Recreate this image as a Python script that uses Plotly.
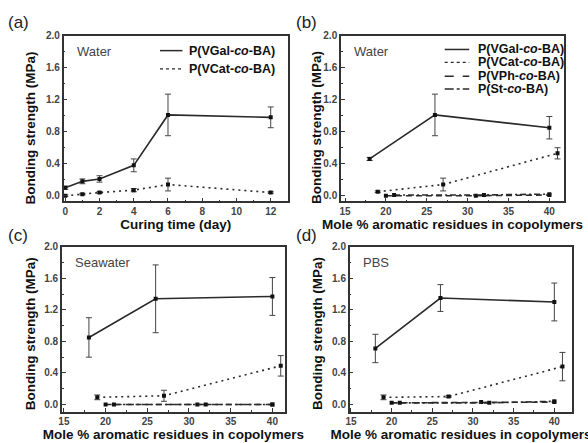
import plotly.graph_objects as go

# ---------------- data ----------------
# (a) curing time
days = [0, 1, 2, 4, 6, 12]
a_vgal = [0.10, 0.18, 0.21, 0.38, 1.01, 0.98]
a_vgal_err = [0.02, 0.03, 0.04, 0.08, 0.26, 0.13]
a_vcat = [0.00, 0.02, 0.04, 0.07, 0.14, 0.04]
a_vcat_err = [0.01, 0.01, 0.01, 0.02, 0.08, 0.01]

# mole % aromatic residues
x_vgal = [18, 26, 40]
x_vcat = [19, 27, 41]
x_vph = [20, 31, 40]
x_st = [21, 32, 40]

# (b) water
b_vgal = [0.46, 1.01, 0.85]
b_vgal_err = [0.02, 0.26, 0.14]
b_vcat = [0.05, 0.14, 0.53]
b_vcat_err = [0.01, 0.08, 0.07]
b_vph = [0.00, 0.00, 0.01]
b_st = [0.01, 0.01, 0.02]

# (c) seawater
c_vgal = [0.85, 1.34, 1.37]
c_vgal_err = [0.25, 0.43, 0.24]
c_vcat = [0.09, 0.11, 0.49]
c_vcat_err = [0.03, 0.07, 0.13]
c_vph = [0.00, 0.00, 0.00]
c_st = [0.00, 0.00, 0.00]

# (d) PBS
d_vgal = [0.71, 1.35, 1.30]
d_vgal_err = [0.18, 0.17, 0.24]
d_vcat = [0.09, 0.10, 0.48]
d_vcat_err = [0.03, 0.01, 0.18]
d_vph = [0.02, 0.03, 0.03]
d_st = [0.02, 0.02, 0.04]

series_names = ["P(VGal-<i>co</i>-BA)", "P(VCat-<i>co</i>-BA)", "P(VPh-<i>co</i>-BA)", "P(St-<i>co</i>-BA)"]
dashes = ["solid", "2px,4px", "6px,4px", "6px,3px,2px,3px"]
legend_dashes = ["solid", "dot", "dash", "dashdot"]

LINE = "#2a2a2a"
AX = "#333333"
FONT = "Liberation Sans, Arial"

fig = go.Figure()


def add(xs, ys, err, dash, xa, ya):
    fig.add_trace(go.Scatter(
        x=xs, y=ys, mode="lines+markers",
        line=dict(color=LINE, width=1.6 if dash == "solid" else 1.6, dash=dash),
        marker=dict(symbol="square", size=4, color="#111"),
        error_y=dict(type="data", array=err, visible=err is not None,
                     color="#444", thickness=1, width=3),
        xaxis=xa, yaxis=ya, showlegend=False, hoverinfo="skip"))


add(days, a_vgal, a_vgal_err, dashes[0], "x", "y")
add(days, a_vcat, a_vcat_err, dashes[1], "x", "y")

for (vg, vge, vc, vce, vp, st, xa, ya) in [
    (b_vgal, b_vgal_err, b_vcat, b_vcat_err, b_vph, b_st, "x2", "y2"),
    (c_vgal, c_vgal_err, c_vcat, c_vcat_err, c_vph, c_st, "x3", "y3"),
    (d_vgal, d_vgal_err, d_vcat, d_vcat_err, d_vph, d_st, "x4", "y4"),
]:
    add(x_vgal, vg, vge, dashes[0], xa, ya)
    add(x_vcat, vc, vce, dashes[1], xa, ya)
    add(x_vph, vp, None, dashes[2], xa, ya)
    add(x_st, st, None, dashes[3], xa, ya)

tickfont = dict(family=FONT, size=10, color="#444", weight="bold")
titlefont = dict(family=FONT, size=13.5, color="#111", weight="bold")


def xax(domain, rng, dtick, minor_dtick, anchor, title):
    return dict(domain=domain, range=rng, anchor=anchor, showgrid=False, zeroline=False,
                showline=True, mirror=True, linecolor=AX, linewidth=1.5,
                ticks="inside", ticklen=4, tickcolor=AX, tickwidth=1,
                minor=dict(ticks="inside", ticklen=2, dtick=minor_dtick, tickcolor=AX),
                tickfont=tickfont, tick0=0, dtick=dtick,
                title=dict(text=title, font=titlefont, standoff=3))


def yax(domain, rng, anchor):
    return dict(domain=domain, range=rng, anchor=anchor, showgrid=False, zeroline=False,
                showline=True, mirror=True, linecolor=AX, linewidth=1.5,
                ticks="inside", ticklen=4, tickcolor=AX, tickwidth=1,
                minor=dict(ticks="inside", ticklen=2, dtick=0.2, tickcolor=AX),
                tickfont=tickfont, tick0=0, dtick=0.4, tickformat=".1f")


mole_title = "Mole % aromatic residues in copolymers"
fig.update_layout(
    width=588, height=443, margin=dict(l=0, r=0, t=0, b=0),
    paper_bgcolor="white", plot_bgcolor="white",
    xaxis=xax([0.102, 0.486], [-0.1, 13], 2, 1, "y", "Curing time (day)"),
    yaxis=yax([0.553, 0.932], [-0.07, 2.0], "x"),
    xaxis2=xax([0.577, 0.959], [14.5, 41.8], 5, 2.5, "y2", mole_title),
    yaxis2=yax([0.553, 0.932], [-0.07, 2.0], "x2"),
    xaxis3=xax([0.099, 0.481], [14.75, 41.5], 5, 2.5, "y3", mole_title),
    yaxis3=yax([0.072, 0.449], [-0.09, 2.0], "x3"),
    xaxis4=xax([0.592, 0.973], [14.85, 42.2], 5, 2.5, "y4", mole_title),
    yaxis4=yax([0.072, 0.449], [-0.09, 2.0], "x4"),
)

# y-axis titles
for x, y in [(0.0445, 0.722), (0.535, 0.722), (0.0445, 0.251), (0.537, 0.251)]:
    fig.add_annotation(text="Bonding strength (MPa)", xref="paper", yref="paper", x=x, y=y,
                       xanchor="center", yanchor="middle", textangle=-90, showarrow=False,
                       font=titlefont)

# panel labels
for lab, x, y in [("(a)", 0.003, 0.962), ("(b)", 0.497, 0.962), ("(c)", 0.003, 0.474), ("(d)", 0.497, 0.474)]:
    fig.add_annotation(text=lab, xref="paper", yref="paper", x=x, y=y, xanchor="left", yanchor="middle",
                       showarrow=False, font=dict(family=FONT, size=17, color="#222"))

# medium labels
for txt, xr, yr in [("Water", "x", "y"), ("Water", "x2", "y2"), ("Seawater", "x3", "y3"), ("PBS", "x4", "y4")]:
    fig.add_annotation(text=txt, xref=xr + " domain", yref=yr + " domain", x=0.05, y=0.905,
                       xanchor="left", yanchor="middle", showarrow=False,
                       font=dict(family=FONT, size=13, color="#444"))


def legend(xr, yr, n, x0, x1, xt, ys):
    for i in range(n):
        fig.add_shape(type="line", xref=xr + " domain", yref=yr + " domain",
                      x0=x0, x1=x1, y0=ys[i], y1=ys[i],
                      line=dict(color=LINE, width=1.5 if i != 1 else 1.2, dash=legend_dashes[i]))
        fig.add_annotation(text="<b>%s</b>" % series_names[i], xref=xr + " domain", yref=yr + " domain",
                           x=xt, y=ys[i], xanchor="left", yanchor="middle", showarrow=False,
                           font=dict(family=FONT, size=12.5, color="#111"))


legend("x", "y", 2, 0.43, 0.53, 0.55, [0.91, 0.80])
legend("x2", "y2", 4, 0.465, 0.575, 0.605, [0.917, 0.839, 0.756, 0.679])

fig.write_html("out.html", config={"displayModeBar": False},
               post_script="document.body.style.margin='0';document.body.style.overflow='hidden';")
